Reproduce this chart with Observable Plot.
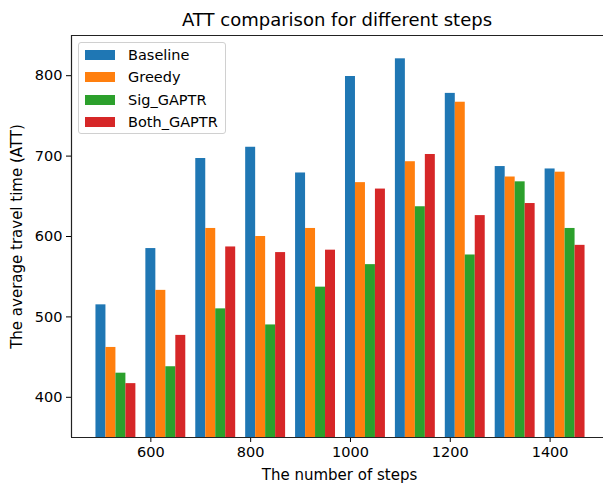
<!DOCTYPE html>
<html>
<head>
<meta charset="utf-8">
<script src="https://cdn.jsdelivr.net/npm/d3@7"></script>
<script src="https://cdn.jsdelivr.net/npm/@observablehq/plot@0.6"></script>
<style>
  html, body { margin: 0; padding: 0; background: #fff; overflow: hidden; }
  #wrap { position: relative; width: 603px; height: 483px; overflow: hidden; font-family: "DejaVu Sans", sans-serif; }
  #title { position: absolute; left: 68px; width: 538px; top: 9px; text-align: center; font-size: 18px; color: #000; line-height: 22px; white-space: nowrap; }
  #legend { position: absolute; left: 78px; top: 42px; width: 148px; height: 92px; border: 1px solid #d0d0d0; border-radius: 3px; background: rgba(255,255,255,0.8); box-sizing: border-box; }
  .row { position: absolute; left: 0; height: 22px; display: flex; align-items: center; font-size: 14.5px; color: #000; }
  .sw { width: 30px; height: 10px; margin-left: 6px; margin-right: 13px; }
  svg { display: block; max-width: none !important; }
</style>
</head>
<body>
<div id="wrap">
  <div id="chart"></div>
  <div id="title">ATT comparison for different steps</div>
  <div id="legend"></div>
</div>
<script>
const steps = [500, 600, 700, 800, 900, 1000, 1100, 1200, 1300, 1400];
const seriesNames = ["Baseline", "Greedy", "Sig_GAPTR", "Both_GAPTR"];
const baseline = [515, 585, 697, 711, 679, 799, 821, 778, 687, 684];
const greedy   = [462, 533, 610, 600, 610, 667, 693, 767, 674, 680];
const sigGaptr = [430, 438, 510, 490, 537, 565, 637, 577, 668, 610];
const bothGaptr= [417, 477, 587, 580, 583, 659, 702, 626, 641, 589];
const colors = ["#1f77b4", "#ff7f0e", "#2ca02c", "#d62728"];
const xTicks = [600, 800, 1000, 1200, 1400];
const yTicks = [400, 500, 600, 700, 800];

const seriesValues = [baseline, greedy, sigGaptr, bothGaptr];
const barWidth = 20;
const rows = [];
seriesValues.forEach((vals, i) => {
  steps.forEach((s, j) => rows.push({step: s, value: vals[j], series: seriesNames[i], idx: i}));
});

const font = "DejaVu Sans, sans-serif";
const chart = Plot.plot({
  width: 607,
  height: 483,
  marginTop: 35,
  marginBottom: 46,
  marginLeft: 71,
  marginRight: 0,
  style: {fontFamily: font, fontSize: "14.5px", color: "#000", maxWidth: "none"},
  x: {domain: [441, 1515]},
  y: {domain: [350, 850]},
  color: {domain: seriesNames, range: colors},
  marks: [
    Plot.rectY(rows, {
      x1: d => d.step - barWidth / 2 + d.idx * barWidth,
      x2: d => d.step + barWidth / 2 + d.idx * barWidth,
      y1: 0,
      y2: "value",
      fill: "series",
      clip: true
    }),
    Plot.axisX({ticks: xTicks, tickSize: 5, tickPadding: 4, tickFormat: d => String(d), fontSize: 14.5, label: "The number of steps", labelAnchor: "center", labelArrow: "none", labelOffset: 42}),
    Plot.axisY({ticks: yTicks, tickSize: 5, tickPadding: 4, tickFormat: d => String(d), fontSize: 14.5, label: "The average travel time (ATT)", labelAnchor: "center", labelArrow: "none", labelOffset: 60}),
    Plot.ruleY([350, 850], {stroke: "#222", strokeWidth: 1.2}),
    Plot.ruleX([441], {stroke: "#222", strokeWidth: 1.2})
  ]
});
chart.querySelectorAll('g[aria-label="x-axis label"] text, g[aria-label="y-axis label"] text').forEach(t => t.setAttribute("font-size", "15"));
document.getElementById("chart").appendChild(chart);

const legend = document.getElementById("legend");
seriesNames.forEach((name, i) => {
  const r = document.createElement("div");
  r.className = "row";
  r.style.top = (1 + i * 22.3) + "px";
  const sw = document.createElement("div");
  sw.className = "sw";
  sw.style.background = colors[i];
  const t = document.createElement("span");
  t.textContent = name;
  r.appendChild(sw);
  r.appendChild(t);
  legend.appendChild(r);
});
</script>
</body>
</html>
